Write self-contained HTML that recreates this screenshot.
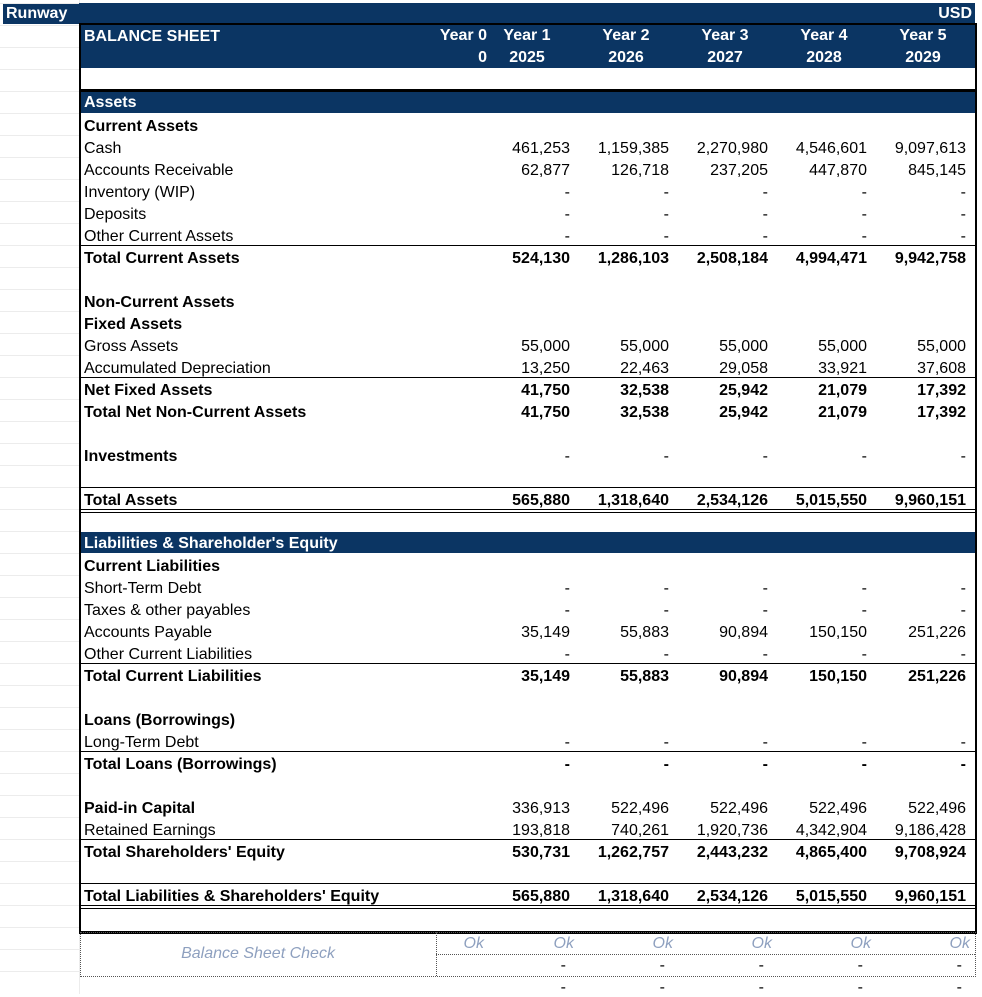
<!DOCTYPE html>
<html><head><meta charset="utf-8">
<style>
body{margin:0;width:982px;height:994px;background:#fff;position:relative;overflow:hidden;font-family:"Liberation Sans",Arial,sans-serif;font-size:16px;color:#000}
.a{position:absolute;white-space:nowrap}
.navy{background:#0b3563;color:#fff;font-weight:bold}
.grid{position:absolute;left:0;width:79px;height:1px;background:#ececec}
</style></head><body>
<div class="a" style="left:79px;top:0;width:1px;height:994px;background:#ececec"></div>
<div class="a navy" style="left:3px;top:3px;width:972px;height:21px">
 <span class="a" style="left:3px;top:2px">Runway</span>
 <span class="a" style="right:3px;top:2px">USD</span>
</div>
<div class="a" style="left:79px;top:23px;width:894px;height:906px;border:2px solid #000;border-bottom:3px solid #000"></div>
<div class="a navy" style="left:81px;top:25px;width:894px;height:43px">
 <span class="a" style="left:3px;top:3px">BALANCE SHEET</span>
</div>
<div class="a" style="left:81px;top:89px;width:894px;height:3px;background:#000"></div>
<div id="root"></div>
<div class="a" style="left:80px;top:932px;width:894px;height:43px;border:1px dotted #555"></div>
<div class="a" style="left:436px;top:932px;width:0;height:44px;border-left:1px dotted #555"></div>
<div class="a" style="left:436px;top:954px;width:539px;height:0;border-top:1px dotted #555"></div>
<div class="a" style="left:80px;top:945px;width:356px;text-align:center;color:#8ea0bf;font-style:italic">Balance Sheet Check</div>
<script>
const years=["Year 0","Year 1","Year 2","Year 3","Year 4","Year 5"];
const periods=["0","2025","2026","2027","2028","2029"];
const labels=["Current Assets","Cash","Accounts Receivable","Inventory (WIP)","Deposits","Other Current Assets","Total Current Assets","","Non-Current Assets","Fixed Assets","Gross Assets","Accumulated Depreciation","Net Fixed Assets","Total Net Non-Current Assets","","Investments","","Total Assets","","#Liabilities & Shareholder's Equity","Current Liabilities","Short-Term Debt","Taxes & other payables","Accounts Payable","Other Current Liabilities","Total Current Liabilities","","Loans (Borrowings)","Long-Term Debt","Total Loans (Borrowings)","","Paid-in Capital","Retained Earnings","Total Shareholders' Equity","","Total Liabilities & Shareholders' Equity"];
const boldRows=[0,6,8,9,12,13,15,17,20,25,27,29,31,33,35];
const boldValueRows=[6,12,13,17,25,29,33,35];
const topLineRows=[6,12,17,25,29,33,35];
const values={
1:["461,253","1,159,385","2,270,980","4,546,601","9,097,613"],
2:["62,877","126,718","237,205","447,870","845,145"],
3:["-","-","-","-","-"],4:["-","-","-","-","-"],5:["-","-","-","-","-"],
6:["524,130","1,286,103","2,508,184","4,994,471","9,942,758"],
10:["55,000","55,000","55,000","55,000","55,000"],
11:["13,250","22,463","29,058","33,921","37,608"],
12:["41,750","32,538","25,942","21,079","17,392"],
13:["41,750","32,538","25,942","21,079","17,392"],
15:["-","-","-","-","-"],
17:["565,880","1,318,640","2,534,126","5,015,550","9,960,151"],
21:["-","-","-","-","-"],22:["-","-","-","-","-"],
23:["35,149","55,883","90,894","150,150","251,226"],
24:["-","-","-","-","-"],
25:["35,149","55,883","90,894","150,150","251,226"],
28:["-","-","-","-","-"],29:["-","-","-","-","-"],
31:["336,913","522,496","522,496","522,496","522,496"],
32:["193,818","740,261","1,920,736","4,342,904","9,186,428"],
33:["530,731","1,262,757","2,443,232","4,865,400","9,708,924"],
35:["565,880","1,318,640","2,534,126","5,015,550","9,960,151"]};
const colRight=[487,570,669,768,867,966];
const root=document.getElementById('root');
function mk(cls,style,text){const d=document.createElement('div');d.className='a '+cls;d.style.cssText=style;if(text!==undefined)d.textContent=text;root.appendChild(d);return d;}
years.forEach((y,i)=>{
 const c=i===0?'right:'+(982-colRight[0])+'px':'left:'+(colRight[i]-80)+'px;width:74px;text-align:center';
 const h=mk('','color:#fff;font-weight:bold;top:27px;'+c,y);
 
 
 const p=mk('','color:#fff;font-weight:bold;top:49px;'+c,periods[i]);
 
 
});
const ab=mk('navy','left:81px;top:92px;width:894px;height:21px;',undefined);


const at=mk('','color:#fff;font-weight:bold;left:84px;top:94px','Assets');


for(let g=0;g<45;g++){const l=mk('grid','top:'+(3+22*g)+'px');}
labels.forEach((t,i)=>{
 const top=114+22*i;
 if(t.startsWith('#')){
  const b=mk('navy','left:81px;top:'+(top)+'px;width:894px;height:21px;');
  
  
  const bt=mk('','color:#fff;font-weight:bold;left:84px;top:'+(top+3)+'px',t.slice(1));
  
  
  return;
 }
 if(topLineRows.includes(i)){
  const ln=mk('','left:81px;top:'+(top-1)+'px;width:894px;height:1px;background:#000');
  
  
 }
 if(i===17||i===35){
  const ln2=mk('','left:81px;top:'+(top+21)+'px;width:894px;height:4px;border-top:1px solid #000;border-bottom:1px solid #000;box-sizing:border-box');
  
  
 }
 const bold=boldRows.includes(i)?'font-weight:bold;':'';
 const vbold=boldValueRows.includes(i)?'font-weight:bold;':'';
 if(t){
  const l=mk('',bold+'left:84px;top:'+(top+4)+'px',t);
  
  
 }
 const v=values[i];
 if(v){v.forEach((s,k)=>{
  const c=mk('',vbold+'right:'+(982-colRight[k+1])+'px;top:'+(top+4)+'px',s);
  
  
 });}
});
const checkOk=["Ok","Ok","Ok","Ok","Ok","Ok"];
const checkOkRight=[484,574,673,772,871,970];
checkOk.forEach((s,k)=>{
 const c=mk('','color:#8ea0bf;font-style:italic;right:'+(982-checkOkRight[k])+'px;top:935px',s);
 
 
 for(const yy of [957,979]){ if(k===0) continue;
  const d=mk('','right:'+(982-colRight[k]+4)+'px;top:'+yy+'px','-');
  
  
 }
});
</script>
</body></html>
